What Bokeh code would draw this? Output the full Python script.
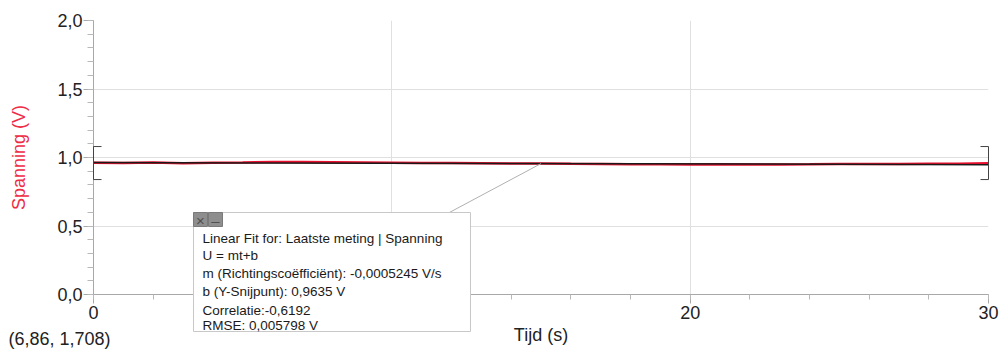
from bokeh.plotting import figure
from bokeh.models import (Range1d, FixedTicker, CustomJSTickFormatter, ColumnDataSource)
from bokeh.core.properties import value
from bokeh.embed import file_html
from bokeh.resources import INLINE

# ---------------- data ----------------
time_s = [0, 1, 2, 3, 4, 5, 6, 7, 8, 9, 10, 11, 12, 13, 14, 15, 16, 17, 18, 19, 20,
          21, 22, 23, 24, 25, 26, 27, 28, 29, 30]
spanning_v = [0.962, 0.960, 0.963, 0.958, 0.961, 0.963, 0.967, 0.968, 0.966, 0.964, 0.962,
              0.960, 0.959, 0.958, 0.957, 0.956, 0.954, 0.953, 0.951, 0.950, 0.949,
              0.950, 0.948, 0.949, 0.950, 0.952, 0.953, 0.952, 0.954, 0.955, 0.958]
fit_m = -0.0005245
fit_b = 0.9635
fit_range = [0, 30]
bracket_lo, bracket_hi = 0.839, 1.080
y_major = [0.0, 0.5, 1.0, 1.5, 2.0]
y_minor = [round(i * 0.1, 1) for i in range(21)]
x_major = [0, 10, 20, 30]
x_minor = list(range(0, 31, 2))
box_lines = ["Linear Fit for: Laatste meting | Spanning",
             "U = mt+b",
             "m (Richtingscoëfficiënt): -0,0005245 V/s",
             "b (Y-Snijpunt): 0,9635 V",
             "Correlatie:-0,6192",
             "RMSE: 0,005798 V"]
cursor_text = "(6,86, 1,708)"

FONT = "Liberation Sans"
RED = "#e8102e"

# frame in page pixels: x 93..988, y 20..294
FL, FR, FT, FB = 93, 988, 20, 294
W, H = 1001, 354

p = figure(width=W, height=H, output_backend="svg", toolbar_location=None,
           x_range=Range1d(0, 30), y_range=Range1d(0, 2),
           min_border_left=FL, min_border_right=W - FR,
           min_border_top=FT, min_border_bottom=H - FB)
p.outline_line_color = None
p.background_fill_color = "white"
p.border_fill_color = "white"

# page-pixel -> data helpers (for annotation placement only)
def dx(px):
    return (px - FL) * 30.0 / (FR - FL)

def dy(py):
    return (FB - py) * 2.0 / (FB - FT)

# axes
for ax in (p.xaxis[0], p.yaxis[0]):
    ax.axis_line_color = "#a8a8a8"
    ax.major_tick_line_color = "#a8a8a8"
    ax.minor_tick_line_color = "#b8b8b8"
    ax.major_tick_in = 0
    ax.minor_tick_in = 0
    ax.major_label_text_font = FONT
    ax.major_label_text_font_size = "18px"
    ax.major_label_text_color = "#222222"
    ax.axis_label_text_font = FONT
    ax.axis_label_text_font_size = "18px"
    ax.axis_label_text_font_style = "normal"

p.yaxis.ticker = FixedTicker(ticks=y_major, minor_ticks=y_minor)
p.yaxis.formatter = CustomJSTickFormatter(code="return tick.toFixed(1).replace('.', ',');")
p.yaxis.major_tick_out = 10
p.yaxis.minor_tick_out = 6
p.yaxis.major_label_standoff = 1
p.yaxis.axis_label = "Spanning (V)"
p.yaxis.axis_label_text_color = "#ef2b45"
p.yaxis.axis_label_standoff = 25

p.xaxis.ticker = FixedTicker(ticks=x_major, minor_ticks=x_minor)
p.xaxis.formatter = CustomJSTickFormatter(code="return tick.toFixed(0);")
p.xaxis.major_tick_out = 9
p.xaxis.minor_tick_out = 5
p.xaxis.major_label_standoff = 2
p.xaxis.axis_label = "Tijd (s)"
p.xaxis.axis_label_text_color = "#222222"
p.xaxis.axis_label_standoff = 3

p.xgrid.ticker = FixedTicker(ticks=[10, 20, 30])
p.ygrid.ticker = FixedTicker(ticks=[0.5, 1.0, 1.5, 2.0])
p.xgrid.grid_line_color = "#e0e0e0"
p.ygrid.grid_line_color = "#e0e0e0"

# data line
src = ColumnDataSource(dict(t=time_s, u=spanning_v))
p.line("t", "u", source=src, line_color=RED, line_width=2.5)

# fit line
fit_y = [fit_m * t + fit_b for t in fit_range]
p.line(fit_range, fit_y, line_color="#1a1a1a", line_width=1.5)

# range brackets
serif = dx(101)
p.multi_line(
    xs=[[fit_range[0] + serif, fit_range[0], fit_range[0], fit_range[0] + serif],
        [fit_range[1] - serif, fit_range[1], fit_range[1], fit_range[1] - serif]],
    ys=[[bracket_hi, bracket_hi, bracket_lo, bracket_lo],
        [bracket_hi, bracket_hi, bracket_lo, bracket_lo]],
    line_color="#444444", line_width=1, level="overlay")

# callout line from the box to the fit line
t_call = 15.0
p.line([dx(447), t_call], [dy(213), fit_m * t_call + fit_b], line_color="#b0b0b0", line_width=1)

# fit box: drawn at overlay level so that it can extend below the frame
p.quad(left=[dx(193)], right=[dx(470)], top=[dy(212)], bottom=[dy(331)],
       fill_color="white", line_color="#c8c8c8", line_width=1, level="overlay")
p.quad(left=[dx(193), dx(208)], right=[dx(207), dx(222)], top=[dy(212)] * 2, bottom=[dy(226)] * 2,
       fill_color="#8e8e8e", line_color="#7a7a7a", line_width=1, level="overlay")
p.text(x=[dx(200), dx(215)], y=[dy(219.5)] * 2, text=["×", "–"],
       text_font=value(FONT), text_font_size="15px", text_color="#505050",
       text_align="center", text_baseline="middle", level="overlay")

line_y = [238, 255, 273, 291, 310, 325]
p.text(x=[dx(202)] * len(box_lines), y=[dy(v) for v in line_y], text=box_lines,
       text_font=value(FONT), text_font_size="13.5px", text_color="#1a1a1a",
       text_align="left", text_baseline="middle", level="overlay")

# cursor readout
p.text(x=[dx(8)], y=[dy(338)], text=[cursor_text],
       text_font=value(FONT), text_font_size="18px", text_color="#222222",
       text_align="left", text_baseline="middle", level="overlay")

open("out.html", "w").write(file_html(p, INLINE))
